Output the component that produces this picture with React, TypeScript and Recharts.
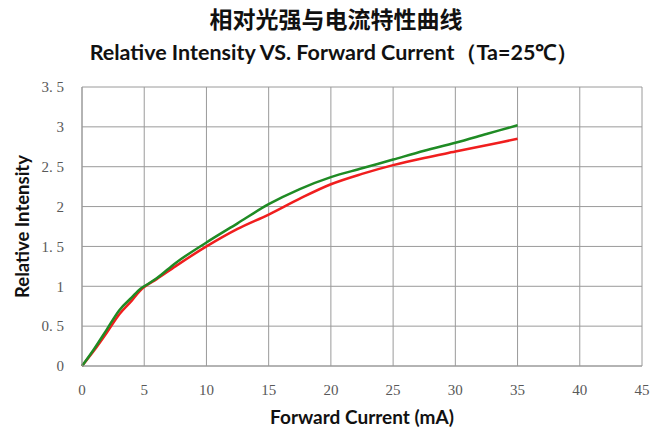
import React from 'react';
import { LineChart, Line, XAxis, YAxis, CartesianGrid, Label } from 'recharts';

// forward current (mA) sample points
const currents = [0, 1, 2, 3, 4, 4.7, 5, 6, 7.5, 10, 12.5, 15, 17.5, 20, 22.5, 25, 27.5, 30, 32.5, 35];
// relative intensity, green curve
const greenValues = [0, 0.22, 0.46, 0.7, 0.86, 0.97, 1.0, 1.1, 1.29, 1.55, 1.79, 2.03, 2.22, 2.37, 2.48, 2.59, 2.7, 2.8, 2.91, 3.02];
// relative intensity, red curve
const redValues = [0, 0.2, 0.42, 0.65, 0.82, 0.95, 0.99, 1.09, 1.25, 1.5, 1.72, 1.9, 2.1, 2.28, 2.41, 2.52, 2.61, 2.69, 2.77, 2.85];

const xTicks = [0, 5, 10, 15, 20, 25, 30, 35, 40, 45];
const yTicks = [0, 0.5, 1, 1.5, 2, 2.5, 3, 3.5];

const title = '相对光强与电流特性曲线';
const subtitle = 'Relative Intensity VS. Forward Current（Ta=25℃）';

const data = currents.map((c, i) => ({ current: c, green: greenValues[i], red: redValues[i] }));

const tickStyle = { fill: '#595959', fontSize: 15, fontFamily: '"Liberation Serif", serif' };
const labelFont = 'Lato, "Open Sans", sans-serif';

const App: React.FC = () => {
  return (
    <div style={{ position: 'absolute', left: 0, top: 0, width: 657, height: 432, background: '#fff' }}>
      <div
        style={{
          position: 'absolute', top: 2, left: 0, width: 672, textAlign: 'center',
          fontFamily: '"Noto Sans CJK SC", sans-serif', fontWeight: 700, fontSize: 23, color: '#111',
          lineHeight: '32px',
        }}
      >
        {title}
      </div>
      <div
        style={{
          position: 'absolute', top: 38, left: 0, width: 668, textAlign: 'center',
          fontFamily: labelFont, fontWeight: 700, fontSize: 21.5, color: '#111', lineHeight: '28px',
        }}
      >
        {subtitle}
      </div>
      <LineChart
        width={657}
        height={432}
        data={data}
        margin={{ top: 87, right: 15, left: 42, bottom: 36 }}
        style={{ position: 'absolute', left: 0, top: 0 }}
      >
        <CartesianGrid stroke="#9a9a9a" strokeWidth={1} />
        <XAxis
          dataKey="current"
          type="number"
          domain={[0, 45]}
          ticks={xTicks}
          tickLine={false}
          axisLine={{ stroke: '#9a9a9a' }}
          tick={tickStyle}
          tickMargin={12}
          height={30}
        >
          <Label
            value="Forward Current (mA)"
            position="bottom"
            offset={15}
            style={{ fontFamily: labelFont, fontWeight: 700, fontSize: 19, fill: '#111' }}
          />
        </XAxis>
        <YAxis
          type="number"
          domain={[0, 3.5]}
          ticks={yTicks}
          tickLine={false}
          axisLine={{ stroke: '#9a9a9a' }}
          tick={tickStyle}
          tickMargin={12}
          width={40}
          tickFormatter={(v: number) => String(v).replace('.', '. ')}
        >
          <Label
            value="Relative  Intensity"
            angle={-90}
            position="insideLeft"
            offset={-20}
            style={{ fontFamily: labelFont, fontWeight: 700, fontSize: 18.5, fill: '#111', textAnchor: 'middle', whiteSpace: 'pre' }}
          />
        </YAxis>
        <Line type="monotone" dataKey="red" stroke="#f01e1e" strokeWidth={2.5} dot={false} isAnimationActive={false} />
        <Line type="monotone" dataKey="green" stroke="#1f8b24" strokeWidth={2.5} dot={false} isAnimationActive={false} />
      </LineChart>
    </div>
  );
};

export default App;
